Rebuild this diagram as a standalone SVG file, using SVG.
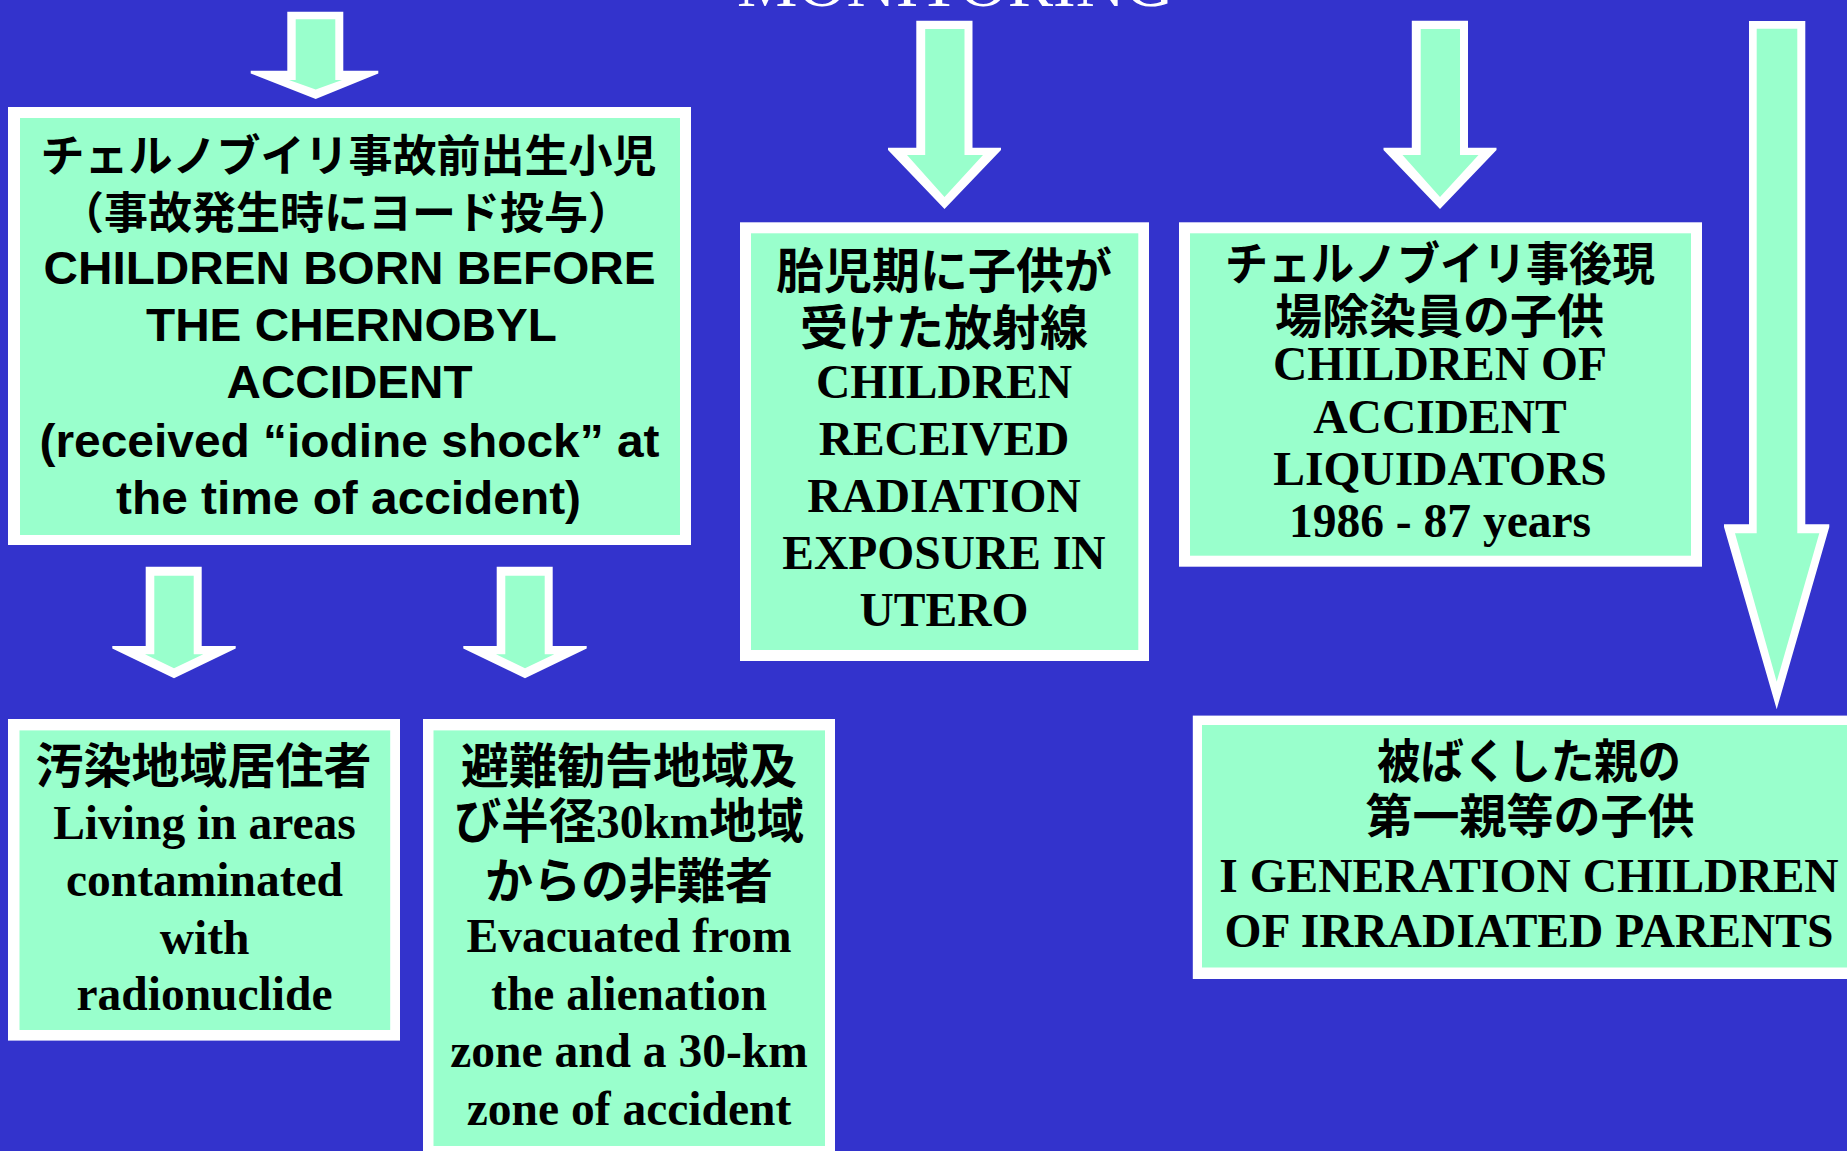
<svg xmlns="http://www.w3.org/2000/svg" width="1847" height="1151" viewBox="0 0 1847 1151">
<style>
.frame{fill:#ffffff}
.panel{fill:#99ffcc}
.aout{fill:#ffffff}
.ain{fill:#99ffcc}
text{text-anchor:middle;fill:#000000;font-weight:700}
.sans{font-family:"Liberation Sans","Noto Sans CJK JP",sans-serif;font-size:46px}
.jps{font-family:"Liberation Sans","Noto Sans CJK JP",sans-serif;font-size:44px}
.serif{font-family:"Liberation Serif","Noto Sans CJK JP",serif;font-size:47.5px}
.jp{font-family:"Liberation Serif","Noto Sans CJK JP",serif;font-size:48px}
.title{font-family:"Liberation Serif",serif;font-size:68px;font-weight:400;fill:#ffffff}
</style>
<rect x="0" y="0" width="1847" height="1151" fill="#3333cc"/>
<text class="title" x="955.5" y="6">MONITORING</text>

<g id="connectors">
  <g id="arrow-top-left">
    <polygon class="aout" points="287.3,11.7 343.3,11.7 343.3,70.7 378.3,70.7 378.3,73.5 315.7,99 250.7,73.5 250.7,70.7 287.3,70.7"/>
    <polygon class="ain" points="295.7,19.3 335.3,19.3 335.3,80 342,80 315.7,89.5 289,80 295.7,80"/>
  </g>
  <g id="arrow-to-residents">
    <polygon class="aout" points="145.7,566.7 201.7,566.7 201.7,646 235.7,646 235.7,648.5 174,678.3 112.3,648.5 112.3,646 145.7,646"/>
    <polygon class="ain" points="154.3,575.7 193.7,575.7 193.7,654.3 203.3,654.3 174,668.3 145,654.3 154.3,654.3"/>
  </g>
  <g id="arrow-to-evacuated" transform="translate(351,0)">
    <polygon class="aout" points="145.7,566.7 201.7,566.7 201.7,646 235.7,646 235.7,648.5 174,678.3 112.3,648.5 112.3,646 145.7,646"/>
    <polygon class="ain" points="154.3,575.7 193.7,575.7 193.7,654.3 203.3,654.3 174,668.3 145,654.3 154.3,654.3"/>
  </g>
  <g id="arrow-to-utero">
    <polygon class="aout" points="916.3,20.7 972.5,20.7 972.5,147.7 1001,147.7 1001,150 944.5,209 888,150 888,147.7 916.3,147.7"/>
    <polygon class="ain" points="925.2,29 964.5,29 964.5,155 983,155 944.5,197 907,155 925.2,155"/>
  </g>
  <g id="arrow-to-liquidators" transform="translate(495.5,0)">
    <polygon class="aout" points="916.3,20.7 972.5,20.7 972.5,147.7 1001,147.7 1001,150 944.5,209 888,150 888,147.7 916.3,147.7"/>
    <polygon class="ain" points="925.2,29 964.5,29 964.5,155 983,155 944.5,197 907,155 925.2,155"/>
  </g>
  <g id="arrow-to-generation">
    <polygon class="aout" points="1749,21 1805.3,21 1805.3,524.3 1829.3,524.3 1829.3,527 1776.7,709.3 1724,527 1724,524.3 1749,524.3"/>
    <polygon class="ain" points="1756.7,28.7 1797.3,28.7 1797.3,533.3 1819.3,533.3 1776.7,681.7 1735,533.3 1756.7,533.3"/>
  </g>
</g>

<g id="node-born-before">
  <rect class="frame" x="8" y="107" width="683" height="438"/>
  <rect class="panel" x="20" y="118" width="660" height="417"/>
  <text class="jps" x="348.5" y="172">チェルノブイリ事故前出生小児</text>
  <text class="jps" x="346" y="229">（事故発生時にヨード投与）</text>
  <text class="sans" x="349.5" y="284" textLength="612" lengthAdjust="spacingAndGlyphs">CHILDREN BORN BEFORE</text>
  <text class="sans" x="351.5" y="341" textLength="411" lengthAdjust="spacingAndGlyphs">THE CHERNOBYL</text>
  <text class="sans" x="349.5" y="398" textLength="246" lengthAdjust="spacingAndGlyphs">ACCIDENT</text>
  <text class="sans" x="349.5" y="456.5" textLength="620" lengthAdjust="spacingAndGlyphs">(received “iodine shock” at</text>
  <text class="sans" x="348.5" y="514" textLength="465" lengthAdjust="spacingAndGlyphs">the time of accident)</text>
</g>

<g id="node-utero">
  <rect class="frame" x="740" y="222.3" width="409" height="438.7"/>
  <rect class="panel" x="751" y="233.3" width="387.3" height="416.7"/>
  <text class="jp" x="944" y="288">胎児期に子供が</text>
  <text class="jp" x="944" y="344.5">受けた放射線</text>
  <text class="serif" x="944" y="398.3">CHILDREN</text>
  <text class="serif" x="944" y="455">RECEIVED</text>
  <text class="serif" x="944" y="511.7">RADIATION</text>
  <text class="serif" x="944" y="569">EXPOSURE IN</text>
  <text class="serif" x="944" y="626">UTERO</text>
</g>

<g id="node-liquidators">
  <rect class="frame" x="1179" y="222.3" width="523" height="344.4"/>
  <rect class="panel" x="1190" y="233.3" width="501" height="322.4"/>
  <text class="jp" x="1440" y="280" style="font-size:46px" textLength="430" lengthAdjust="spacingAndGlyphs">チェルノブイリ事後現</text>
  <text class="jp" x="1439.5" y="333" style="font-size:47px">場除染員の子供</text>
  <text class="serif" x="1440" y="380">CHILDREN OF</text>
  <text class="serif" x="1440" y="433">ACCIDENT</text>
  <text class="serif" x="1440" y="485">LIQUIDATORS</text>
  <text class="serif" x="1440" y="537">1986 - 87 years</text>
</g>

<g id="node-generation">
  <rect class="frame" x="1192.8" y="715.6" width="680" height="263.4"/>
  <rect class="panel" x="1202" y="725" width="660" height="242.5"/>
  <text class="jp" x="1529" y="777.5" style="font-size:47px" textLength="304" lengthAdjust="spacingAndGlyphs">被ばくした親の</text>
  <text class="jp" x="1530" y="833" style="font-size:47px">第一親等の子供</text>
  <text class="serif" x="1529" y="891.5">I GENERATION CHILDREN</text>
  <text class="serif" x="1529" y="947">OF IRRADIATED PARENTS</text>
</g>

<g id="node-residents">
  <rect class="frame" x="8" y="719" width="392" height="321.6"/>
  <rect class="panel" x="19.5" y="730.4" width="370.7" height="299.6"/>
  <text class="jp" x="203.5" y="782.5">汚染地域居住者</text>
  <text class="serif" x="204.5" y="839">Living in areas</text>
  <text class="serif" x="204.5" y="895.5">contaminated</text>
  <text class="serif" x="204.5" y="954">with</text>
  <text class="serif" x="204.5" y="1010.4">radionuclide</text>
</g>

<g id="node-evacuated">
  <rect class="frame" x="423" y="719" width="412" height="445"/>
  <rect class="panel" x="433.5" y="730.4" width="391.5" height="415.6"/>
  <text class="jp" x="629" y="782.5">避難勧告地域及</text>
  <text class="jp" x="629" y="838" textLength="350" lengthAdjust="spacingAndGlyphs">び半径30km地域</text>
  <text class="jp" x="629" y="897.5">からの非難者</text>
  <text class="serif" x="629" y="952">Evacuated from</text>
  <text class="serif" x="629" y="1010.4">the alienation</text>
  <text class="serif" x="629" y="1067">zone and a 30-km</text>
  <text class="serif" x="629" y="1125.4">zone of accident</text>
</g>
</svg>
